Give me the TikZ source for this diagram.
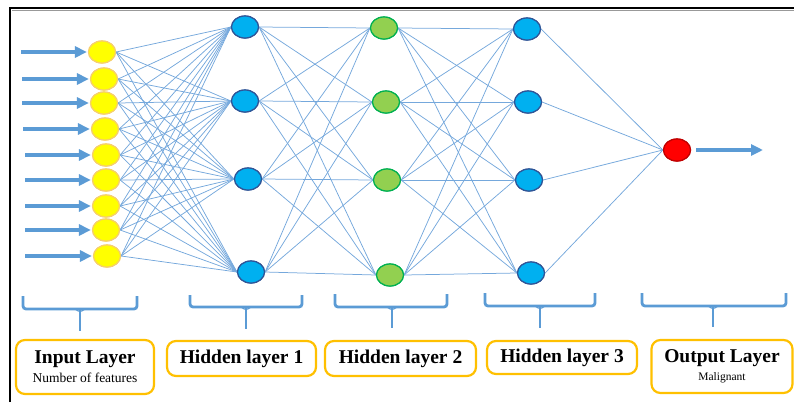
\documentclass[tikz,border=0pt]{standalone}
\usepackage{fontspec}
\setmainfont{Liberation Serif}
\usetikzlibrary{shapes.geometric,arrows.meta}

\definecolor{linkblue}{HTML}{5B9BD5}
\definecolor{wireblue}{HTML}{75A8DC}
\definecolor{inyellow}{HTML}{FFFF00}
\definecolor{inrim}{HTML}{F6CF6A}
\definecolor{hidblue}{HTML}{00B0F0}
\definecolor{hidrim}{HTML}{2F5597}
\definecolor{hidgreen}{HTML}{92D050}
\definecolor{greenrim}{HTML}{00B050}
\definecolor{outred}{HTML}{FF0000}
\definecolor{outrim}{HTML}{C00000}
\definecolor{boxrim}{HTML}{FFC000}

\tikzset{
  neuron/.style={ellipse, minimum width=27pt, minimum height=22pt, inner sep=0pt, line width=1.2pt},
  inp/.style={neuron, fill=inyellow, draw=inrim},
  hidb/.style={neuron, fill=hidblue, draw=hidrim},
  hidg/.style={neuron, fill=hidgreen, draw=greenrim},
  outp/.style={neuron, fill=outred, draw=outrim},
  wire/.style={draw=wireblue, line width=0.75pt},
  feedarrow/.style={draw=linkblue, line width=3.5pt, -{Triangle[length=12pt,width=11pt]}},
  bracket/.style={draw=linkblue, line width=2.8pt, rounded corners=3pt},
  layerbox/.style={draw=boxrim, line width=2.2pt, rounded corners=9pt, align=center, inner sep=0pt},
  title/.style={font=\fontsize{19.5}{22}\selectfont\bfseries},
}

\begin{document}
\begin{tikzpicture}[x=1pt, y=-1pt]
\useasboundingbox (0,0) rectangle (794,402);

% frame edges
\draw[black!40, line width=1pt] (12,10.5) -- (794,10.5);
\draw[black, line width=2pt] (10,402) -- (10,8) -- (794,8);

% input layer
\foreach \i/\px/\py/\t in {1/102/52/21, 2/104/79/22, 3/104/103/22, 4/105/129/23,
                            5/106/155/25, 6/106/180/25, 7/106/206/25, 8/106/230/25, 9/107/256/25}{
  \node[inp] (i\i) at (\px,\py) {};
  \coordinate (s\i) at (\t,\py);
}

% hidden layers and output
\foreach \i/\px/\py in {1/245/27, 2/245/101, 3/248/179, 4/251/272}
  \node[hidb] (a\i) at (\px,\py) {};
\foreach \i/\px/\py in {1/384/28, 2/386/102, 3/387/180, 4/390/275}
  \node[hidg] (b\i) at (\px,\py) {};
\foreach \i/\px/\py in {1/527/29, 2/528/102, 3/529/180, 4/531/273}
  \node[hidb] (c\i) at (\px,\py) {};
\node[outp] (o) at (677,150) {};
\coordinate (oend) at (763,150);

% fully connected weights, from the right point of one neuron to the left point of the next
\foreach \i in {1,...,9}
  \foreach \j in {1,...,4}
    \draw[wire] (i\i.east) -- (a\j.west);
\foreach \i in {1,...,4}
  \foreach \j in {1,...,4}{
    \draw[wire] (a\i.east) -- (b\j.west);
    \draw[wire] (b\i.east) -- (c\j.west);
  }
\foreach \i in {1,...,4}
  \draw[wire] (c\i.east) -- (o.west);

% redraw neurons above the wires
\foreach \i in {1,...,9} \node[inp] at (i\i) {};
\foreach \i in {1,...,4}{
  \node[hidb] at (a\i) {};
  \node[hidg] at (b\i) {};
  \node[hidb] at (c\i) {};
}
\node[outp] at (o) {};

% input and output arrows
\foreach \i in {1,...,9}
  \draw[feedarrow, shorten >=1pt] (s\i) -- (i\i.west);
\draw[feedarrow, shorten <=5pt] (o.east) -- (oend);

% brackets under each layer
\foreach \l/\r/\top/\hy/\m/\bot in {23/137/296/309/80/331, 190/302/295/307/246/329,
                                     335/447/294/307/392/328, 485/595/293/306/540/328,
                                     642/786/293/306/713/327}{
  \draw[bracket] (\l,\top) -- (\l,\hy) -- (\r,\hy) -- (\r,\top);
  \draw[draw=linkblue, line width=2.8pt] (\m,\hy) -- (\m,\bot);
  \draw[draw=linkblue, line width=1.2pt, rounded corners=2pt] (\m-5,\hy) -- (\m,\hy+3) -- (\m+5,\hy);
}

% layer captions
\node[layerbox, minimum width=138pt, minimum height=54pt] (bin) at (85,367)
  {{\fontsize{19.5}{22}\selectfont\bfseries Input Layer}\\[4pt]{\fontsize{13.5}{15}\selectfont Number of features}};
\node[layerbox, title, minimum width=149pt, minimum height=35pt] (bh1) at (241.5,358.5) {Hidden layer 1};
\node[layerbox, title, minimum width=151pt, minimum height=35pt] (bh2) at (400.5,358.5) {Hidden layer 2};
\node[layerbox, title, minimum width=150pt, minimum height=33pt] (bh3) at (562,357.5) {Hidden layer 3};
\node[layerbox, minimum width=141pt, minimum height=53pt] (bout) at (722,366.5)
  {{\fontsize{19.5}{22}\selectfont\bfseries Output Layer}\\[5pt]{\fontsize{11.5}{13}\selectfont Malignant}};
\end{tikzpicture}
\end{document}
